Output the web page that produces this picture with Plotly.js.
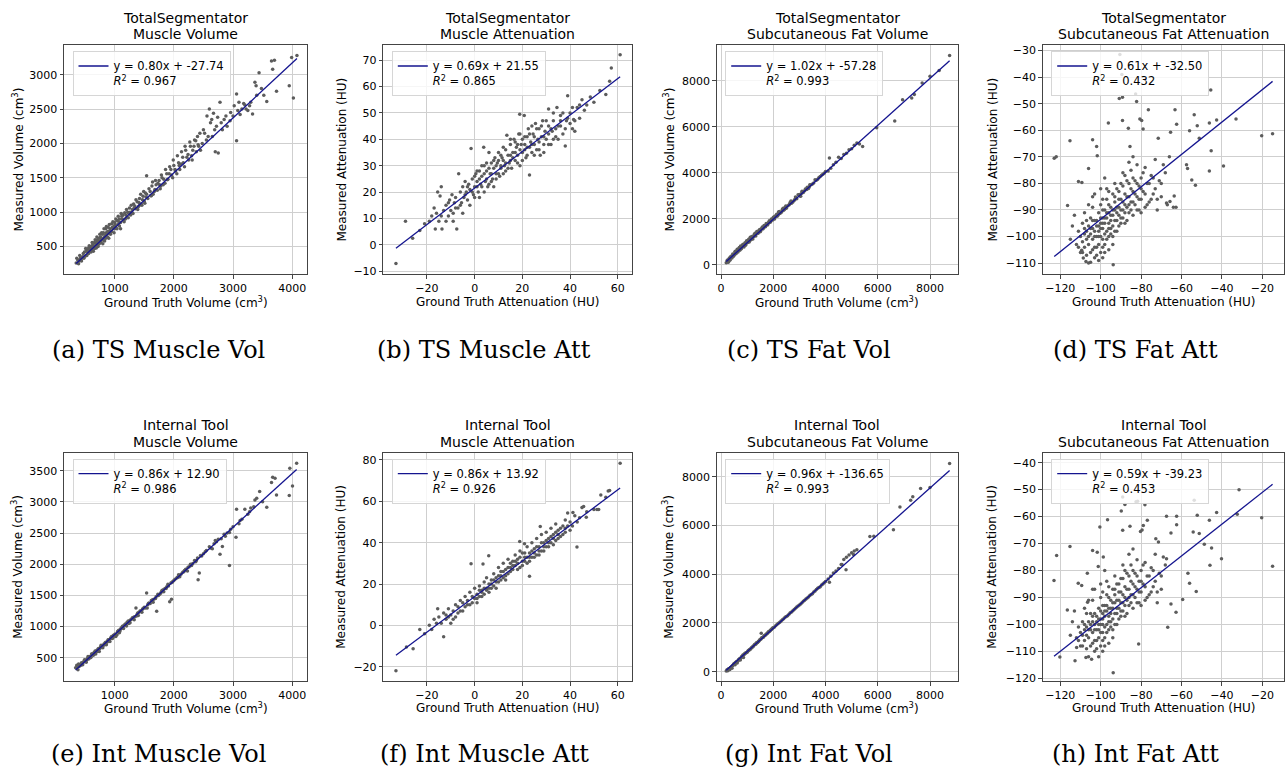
<!DOCTYPE html>
<html><head><meta charset="utf-8">
<script src="https://cdn.plot.ly/plotly-3.0.1.min.js"></script>
<style>html,body{margin:0;padding:0;background:#fff}#chart{width:1287px;height:770px}</style>
</head><body><div id="chart"></div>
<script>
// ---------------- DATA ----------------
const tsMuscleVol = [[350,260],[380,300],[400,290],[420,330],[430,310],[450,340],[470,400],[490,420],[500,360],[520,430],[540,450],[550,420],[560,480],[580,440],[590,470],[600,500],[610,450],[630,530],[640,500],[650,480],[660,560],[680,520],[690,540],[700,570],[710,600],[720,530],[730,580],[740,620],[750,560],[760,640],[770,580],[780,600],[790,680],[800,620],[810,700],[820,590],[830,640],[840,660],[850,760],[860,700],[870,680],[880,640],[890,780],[900,700],[910,720],[920,760],[940,720],[950,830],[960,780],[970,760],[990,800],[1000,850],[1010,820],[1020,780],[1040,880],[1060,820],[1070,860],[1080,900],[1100,850],[1120,940],[1130,900],[1150,880],[1170,990],[1190,960],[1200,920],[1220,1000],[1240,980],[1250,1060],[1270,960],[1290,1000],[1300,1040],[1320,1120],[1340,1090],[1350,1050],[1380,1150],[1400,1080],[1410,1140],[1420,1200],[1450,1120],[1470,1180],[1480,1230],[1500,1160],[1520,1280],[1530,1220],[1540,1530],[1560,1200],[1600,1300],[1610,1240],[1630,1380],[1650,1260],[1680,1330],[1700,1400],[1720,1320],[1750,1460],[1760,1400],[1780,1380],[1800,1500],[1830,1480],[1850,1420],[1880,1560],[1900,1480],[1920,1560],[1950,1620],[1980,1500],[2000,1680],[2020,1620],[2050,1560],[2080,1720],[2100,1620],[2120,1700],[2150,1800],[2180,1660],[2200,1900],[2220,1800],[2250,1760],[2280,1960],[2300,1820],[2320,1900],[2350,2050],[2380,1880],[2400,2100],[2420,1960],[2450,1900],[2500,2200],[2550,2050],[2600,2500],[2620,2300],[2650,2100],[2670,2440],[2700,1880],[2720,2250],[2750,1860],[2780,2600],[2820,2200],[2850,2350],[2900,2250],[2950,2330],[3000,2400],[3060,2720],[3060,2040],[3080,2480],[3150,2500],[3200,2560],[3250,2480],[3330,2430],[3370,2890],[3390,2840],[3440,3030],[3570,2610],[3650,3200],[3670,3080],[3700,3210],[3735,2760],[3950,2840],[3990,3250],[4020,2660],[4080,3280],
[360,330],[390,250],[410,370],[440,290],[460,350],[480,330],[510,470],[530,370],[560,400],[570,510],[600,420],[620,560],[640,430],[660,470],[670,600],[690,480],[700,640],[720,500],[740,540],[750,680],[760,560],[780,700],[800,540],[820,760],[830,580],[850,620],[860,790],[880,720],[900,620],[910,820],[930,680],[950,720],[970,860],[990,700],[1000,760],[1020,900],[1040,760],[1060,940],[1080,800],[1100,760],[1110,980],[1140,960],[1160,860],[1180,900],[1200,1040],[1230,920],[1260,1000],[1280,1100],[1310,980],[1330,1060],[1360,1180],[1390,1040],[1420,1100],[1440,1260],[1460,1100],[1490,1300],[1510,1130],[1540,1260],[1580,1340],[1620,1240],[1640,1440],[1670,1300],[1690,1460],[1730,1420],[1770,1340],[1790,1540],[1820,1400],[1860,1620],[1890,1470],[1930,1660],[1960,1540],[1990,1760],[2030,1600],[2060,1820],[2090,1680],[2130,1880],[2160,1720],[2190,1960],[2240,1840],[2270,2020],[2310,1760],[2340,1960],[2370,2040],[2410,1980],[2440,2150],[2480,2000],[2520,2150],[2560,2400],[2580,2100],[2640,2350],[2690,2200],[2740,2380],[2800,2300],[2880,2400],[2960,2450],[3020,2550],[3100,2600],[3120,2420],[3180,2580],[3220,2500],[3280,2550],[3300,2600],[3400,2700],[3480,2800],[3520,2700]];

const tsMuscleAtt = [[-33,-7],[-29,9],[-26,2.5],[-23,5.5],[-21,8],[-19,9],[-18,11],[-17,14],[-16.5,6],[-16,12],[-15.5,20],[-15,9],[-14.5,18.5],[-14,22],[-14,11],[-13.7,6],[-13,13],[-12,15],[-11,11],[-10.5,17],[-10,13],[-9.5,19],[-9,12],[-8.5,16],[-8,18],[-7.5,6],[-7,14],[-6.7,27],[-6,20],[-5.5,16],[-5,22],[-4.5,18],[-4,24],[-3.5,20],[-3,17],[-2.5,23],[-2,21],[-1.5,36.5],[-1,25],[-0.5,19],[0,22],[0.5,27],[1,24],[1,22],[1.5,20],[2,28],[2.5,23],[3,26],[3,22],[3.8,37],[4,30],[4.5,24],[5,28],[5,25],[5.5,22],[6,35],[6.5,27],[7,31],[7,27],[7.5,25],[8,29],[8.5,33],[9,27],[9,25],[9.5,31],[10,35],[10.5,26],[11,29],[11,30],[11.5,33],[12,37],[12.5,30],[13,28],[13.5,41.5],[14,34],[14.5,31],[15,38],[15,34],[15.5,29],[16,35],[16.5,40],[17,32],[17,35],[17.5,37],[18,34],[18.5,42],[18.9,49.5],[19,30],[19,36],[19.5,38],[20,35],[20.8,49],[21,41],[21,36],[21.5,33],[22,37],[22.5,44],[23,26.5],[23,37],[23.5,39],[24,35],[24.5,42],[25,38],[25.5,46],[26,36],[26.5,40],[27,44],[27,39],[27.5,34],[28,41],[28.5,47],[29,38],[29.5,43],[30,40],[31,51.5],[31,45],[31,42],[32,38],[32.5,43],[33,47],[33,40],[34,41],[34.5,52],[35,45],[36,49],[36,45],[37,42],[38,37.5],[38.5,47],[39,56.5],[40,50],[41,44],[41.5,47.5],[42,43],[43,52],[44,48],[45,55],[46,51],[48.5,56],[50,54],[52.5,58.5],[55,57],[56.6,62],[57.3,67],[61,72],
[-12,9],[-11,16],[-9,9],[-8,14],[-6,15],[-5,12],[-4,19],[-3,22],[-2,15],[-1,20],[0,26],[0,18],[1,28],[2,18],[2,25],[3,30],[4,20],[4,27],[5,31],[6,23],[6,29],[7,24],[8,32],[8,22],[9,30],[10,27],[10,32],[11,34],[12,27],[12,32],[13,36],[13,31],[14,29],[15,32],[15,40],[16,33],[17,39],[18,31],[18,38],[19,42],[20,32],[20,40],[21,38],[22,34],[22,41],[23,42],[24,38],[24,45],[25,34],[25,41],[26,44],[27,36],[28,45],[29,41],[29,35],[30,47],[31,38],[32,44],[33,50],[34,44],[35,40],[36,47],[37,50],[38,44],[39,48],[40,46],[41,52],[42,47],[44,53],[47,53]];

const tsFatVol = [[200,100],[230,180],[260,140],[300,250],[330,200],[360,320],[400,330],[430,380],[460,420],[500,460],[530,560],[560,500],[600,580],[640,620],[680,640],[700,760],[730,690],[760,740],[800,780],[830,880],[860,820],[900,880],[950,920],[980,1050],[1000,960],[1050,1040],[1100,1060],[1120,1200],[1150,1100],[1200,1180],[1250,1240],[1300,1380],[1330,1260],[1400,1390],[1450,1500],[1500,1440],[1550,1580],[1600,1560],[1650,1720],[1700,1660],[1750,1760],[1800,1780],[1850,1920],[1900,1880],[1950,1960],[2000,2060],[2050,2000],[2100,2150],[2150,2120],[2200,2300],[2250,2240],[2300,2280],[2350,2420],[2400,2380],[2450,2500],[2500,2460],[2600,2600],[2650,2720],[2700,2680],[2800,2800],[2850,2950],[2900,2880],[3000,3060],[3050,2990],[3100,3200],[3200,3220],[3300,3380],[3350,3320],[3400,3480],[3500,3520],[3600,3700],[3700,3720],[3800,3840],[3900,3940],[4000,4060],[4100,4080],[4150,4650],[4200,4200],[4300,4350],[4400,4460],[4500,4680],[4600,4620],[4700,4800],[4800,4850],[4900,5000],[5000,5050],[5100,5200],[5200,5300],[5300,5250],[5420,5150],[5960,5960],[6650,6250],[6950,7180],[7300,7250],[7400,7400],[7700,7900],[8000,8200],[8350,8450],[8750,9100],
[250,220],[280,120],[320,300],[350,220],[380,380],[420,300],[450,480],[480,380],[520,460],[550,600],[580,500],[620,680],[650,560],[690,720],[720,640],[750,820],[780,700],[820,800],[850,900],[880,780],[920,960],[940,860],[970,1000],[1020,980],[1060,1120],[1080,1000],[1130,1140],[1180,1240],[1220,1130],[1270,1320],[1320,1300],[1370,1450],[1420,1380],[1480,1540],[1520,1480],[1580,1650],[1620,1600],[1680,1680],[1730,1800],[1780,1740],[1820,1860],[1880,1860],[1930,2000],[1980,1950],[2030,2100],[2080,2080],[2130,2200],[2180,2160],[2230,2320],[2280,2270],[2330,2320],[2380,2460],[2430,2420],[2480,2560],[2550,2560],[2620,2640],[2680,2780],[2750,2740],[2830,2860],[2880,2920],[2950,3050],[3020,3000],[3080,3100],[3150,3150],[3230,3300],[3280,3280],[3380,3400],[3450,3480],[3550,3560],[3650,3680],[3750,3800],[3850,3900],[3950,3980]];

const tsFatAtt = [[-123,-70.5],[-122,-70],[-115.2,-63.9],[-116.4,-88.3],[-111,-79.3],[-109.3,-79.7],[-104,-63.6],[-102,-66.1],[-101.7,-69.6],[-106,-74.4],[-96.2,-57.3],[-90.5,-31.5],[-89.5,-39],[-90.8,-48],[-89.2,-47.6],[-82.7,-46.3],[-82.2,-49.2],[-89.2,-56.3],[-86.3,-59.2],[-80.6,-55.8],[-79.7,-56.3],[-76.4,-52.3],[-85.5,-66.1],[-79,-59.5],[-71.5,-63],[-63.2,-52.3],[-62.4,-57.7],[-65.4,-60.7],[-56,-60.2],[-52.2,-58.3],[-53.7,-54.2],[-46.2,-57.3],[-42.6,-56.1],[-33,-55.8],[-45.5,-44.8],[-45.3,-67.7],[-57.5,-73],[-57,-74.4],[-51.2,-63],[-46.2,-75.3],[-39.2,-73.4],[-54.9,-78.7],[-53.1,-80.7],[-63.6,-84.7],[-62.7,-89],[-67.4,-87.4],[-65.7,-86.8],[-20.3,-62.1],[-14.9,-61.3],[-93.8,-110.6],[-105,-109.7],[-107.3,-109.4],[-108.6,-108.1],[-109.4,-105.2],
[-112,-103],[-111,-98],[-110,-106],[-110,-100],[-109,-95],[-108,-104],[-108,-99],[-107,-107],[-107,-101],[-106,-96],[-106,-103],[-105,-99],[-105,-106],[-105,-93],[-104,-101],[-104,-97],[-103,-104],[-103,-94],[-102,-100],[-102,-96],[-102,-107],[-101,-98],[-101,-91],[-101,-103],[-100,-95],[-100,-100],[-100,-88],[-99,-97],[-99,-93],[-99,-104],[-98,-99],[-98,-90],[-98,-95],[-97,-101],[-97,-86],[-97,-93],[-96,-97],[-96,-91],[-96,-105],[-95,-94],[-95,-89],[-95,-99],[-94,-96],[-94,-84],[-94,-92],[-93,-90],[-93,-98],[-93,-87],[-92,-94],[-92,-82],[-92,-89],[-91,-96],[-91,-86],[-91,-92],[-90,-90],[-90,-80],[-90,-95],[-89,-87],[-89,-93],[-88,-84],[-88,-91],[-88,-77],[-87,-89],[-87,-94],[-86,-85],[-86,-80],[-85,-90],[-85,-75],[-85,-87],[-84,-83],[-84,-92],[-83,-79],[-83,-88],[-82,-85],[-82,-73],[-81,-90],[-81,-81],[-80,-86],[-80,-78],[-79,-83],[-78,-89],[-78,-74],[-77,-80],[-76,-87],[-75,-77],[-74,-84],[-73,-71],[-72,-90],[-71,-79],[-70,-85],[-68,-76],[-67,-88],[-66,-70],[-64,-89],[-113,-92],[-114,-96],[-115,-101],[-104,-89],[-103,-84],[-100,-82],[-98,-78],[-96,-83],[-106,-88],[-108,-91],[-99,-108],[-101,-109],
[-111,-104],[-109,-102],[-108,-97],[-107,-98],[-106,-100],[-105,-97],[-104,-105],[-104,-94],[-103,-100],[-103,-98],[-102,-94],[-102,-104],[-101,-96],[-101,-100],[-100,-97],[-100,-93],[-100,-106],[-99,-95],[-99,-101],[-99,-90],[-98,-93],[-98,-103],[-97,-98],[-97,-91],[-96,-95],[-96,-100],[-96,-88],[-95,-92],[-95,-97],[-94,-90],[-94,-100],[-93,-94],[-93,-85],[-92,-91],[-92,-98],[-91,-89],[-91,-83],[-90,-93],[-90,-86],[-89,-90],[-89,-81],[-88,-88],[-88,-95],[-87,-85],[-87,-79],[-86,-91],[-86,-88],[-85,-82],[-84,-87],[-84,-78],[-83,-84],[-82,-90],[-82,-80],[-81,-86],[-80,-82],[-80,-91],[-79,-76],[-78,-84],[-77,-88],[-76,-80],[-75,-86],[-74,-78],[-73,-82],[-72,-86],[-70,-80],[-69,-73],[-107,-94],[-109,-106],[-103,-108],[-98,-106],[-94,-103],[-97,-82],[-99,-86],[-93,-80],[-89,-76],[-86,-72],[-84,-70],[-106,-110],[-104,-85]];

const intMuscleVol = [[340,340],[360,380],[380,310],[400,360],[420,390],[440,420],[450,400],[460,390],[480,440],[500,460],[510,450],[520,430],[540,490],[560,480],[570,500],[580,520],[600,510],[620,560],[630,550],[640,540],[660,590],[680,560],[690,600],[700,620],[720,640],[740,600],[750,650],[760,670],[780,690],[800,660],[810,700],[820,720],[840,740],[860,710],[870,750],[880,770],[900,790],[920,760],[930,810],[940,830],[960,810],[980,860],[990,850],[1000,870],[1020,840],[1050,920],[1060,930],[1080,900],[1100,960],[1120,980],[1130,1000],[1150,970],[1180,1040],[1190,1030],[1200,1010],[1230,1090],[1250,1090],[1260,1060],[1300,1140],[1320,1150],[1330,1110],[1360,1300],[1380,1200],[1390,1220],[1400,1180],[1430,1250],[1460,1230],[1470,1280],[1500,1310],[1540,1540],[1550,1300],[1560,1350],[1580,1380],[1620,1420],[1640,1430],[1650,1390],[1700,1480],[1710,1245],[1730,1520],[1760,1520],[1780,1540],[1800,1580],[1830,1560],[1850,1610],[1880,1640],[1900,1680],[1930,1400],[1950,1700],[1960,1440],[1980,1720],[2000,1740],[2050,1780],[2060,1790],[2080,1830],[2100,1800],[2150,1870],[2170,1880],[2200,1920],[2230,1890],[2260,1960],[2280,2000],[2300,1980],[2350,2060],[2380,2060],[2400,2100],[2410,1750],[2430,1860],[2450,2140],[2500,2170],[2550,2220],[2600,2280],[2650,2250],[2700,2380],[2750,2400],[2780,2160],[2820,2285],[2850,2480],[2900,2500],[2940,1980],[2940,2510],[3000,2600],[3050,2434],[3060,2880],[3100,2650],[3150,2720],[3200,2880],[3250,2800],[3300,2900],[3370,3030],[3400,3058],[3450,3164],[3500,3000],[3570,2914],[3650,3310],[3670,3393],[3710,3377],[3735,3110],[3950,3100],[3960,3537],[4005,3255],[4075,3620],
[370,360],[390,400],[430,380],[470,430],[490,470],[530,470],[550,520],[590,500],[610,560],[650,580],[670,610],[710,600],[730,650],[770,700],[790,670],[830,710],[850,750],[890,790],[910,770],[950,840],[970,820],[1010,880],[1040,870],[1070,940],[1090,930],[1110,970],[1140,1010],[1170,1030],[1210,1070],[1240,1050],[1270,1110],[1290,1120],[1340,1160],[1370,1170],[1410,1230],[1440,1250],[1480,1290],[1520,1300],[1570,1370],[1600,1370],[1660,1440],[1690,1450],[1740,1500],[1790,1560],[1820,1590],[1870,1610],[1910,1650],[1970,1710],[2020,1760],[2070,1790],[2120,1840],[2180,1900],[2240,1950],[2320,2010],[2370,2040],[2470,2130],[2530,2200],[2620,2260],[2680,2330],[2720,2360],[2800,2410],[2870,2450],[2960,2560],[3120,2700],[3280,2840],[3350,2920]];

const intMuscleAtt = [[-33,-22],[-28.6,-10.4],[-25.8,-11.3],[-23,-2],[-21,-4],[-19,0],[-18,-2],[-17,3],[-16,1],[-15.5,8],[-15,4],[-14,1],[-13,-5.5],[-13,6],[-12,3],[-11,8],[-10,5],[-10,1],[-9,7],[-8,10],[-8,4],[-7,9],[-6,12],[-6,7],[-5,11],[-4,14],[-4,9],[-3,12],[-2,16],[-2,10],[-1.5,29.8],[-1,14],[0,13],[0,18],[1,15],[1,11],[2,19],[2,14],[3,17],[3,16],[3.5,29.7],[4,21],[4,15],[5,18],[5,23],[5,17],[5.9,33.7],[6,20],[6,16],[7,22],[7,20],[8,19],[8,25],[9,21],[9,18],[10,24],[10,28],[11,22],[11,24],[12,26],[12,30],[13,24],[13,22],[14,28],[14,32],[15,26],[15,28],[16,31],[16,27],[17,34],[17,29],[18,32],[18,30],[18.9,40.6],[19,28],[19,36],[20,31],[20,35],[20.9,39.5],[21,33],[21,31],[22,38],[22,30],[23,35],[23,23.7],[23,33],[24,33],[24,40],[25,37],[25,35],[26,34],[26,42],[27,38],[27,36],[27.5,47.8],[28,36],[28,44],[29,40],[29,38],[30,38],[30,45],[31,42],[31,40],[32,40],[32,47],[33,44],[33,42],[34,41],[34,49],[35,46],[35,44],[36,43],[37,48],[38,45],[38,51],[39,54.3],[40,50],[40,46],[41.2,54.6],[42,53],[42.9,37.9],[44,52],[45,57],[45.7,57.5],[46.8,52.3],[47,55],[50,56],[51.3,56],[52,56],[52.9,63],[55,62],[56,65],[56.6,65.2],[61,78.4],
[-12,5],[-11,4],[-9,3],[-7,6],[-5,7],[-3,10],[-1,11],[1,13],[2,17],[3,14],[4,18],[6,18],[7,18],[8,22],[9,23],[10,21],[11,26],[12,23],[13,27],[14,25],[15,30],[16,29],[17,31],[18,27],[19,33],[20,29],[21,35],[22,33],[23,31],[24,36],[25,33],[26,38],[27,34],[28,40],[29,36],[30,41],[31,38],[32,43],[33,39],[34,45],[35,42],[36,47],[37,44],[38,47],[39,48],[41,48],[43,50]];

const intFatVol = [[200,30],[230,80],[260,40],[300,120],[340,90],[380,180],[420,140],[460,260],[500,320],[540,280],[580,400],[620,360],[660,470],[700,520],[740,480],[780,600],[820,640],[860,580],[900,720],[950,770],[1000,800],[1050,870],[1100,900],[1150,960],[1200,1010],[1250,1060],[1300,1130],[1350,1180],[1400,1200],[1450,1260],[1500,1320],[1540,1580],[1550,1380],[1600,1400],[1650,1470],[1700,1500],[1750,1560],[1800,1620],[1850,1650],[1900,1710],[1950,1760],[2000,1800],[2100,1890],[2200,1990],[2300,2080],[2400,2170],[2500,2260],[2600,2360],[2700,2450],[2800,2550],[2900,2650],[3000,2740],[3100,2830],[3200,2930],[3300,3020],[3400,3130],[3500,3200],[3600,3310],[3700,3420],[3800,3490],[3900,3600],[4000,3700],[4100,3800],[4150,3670],[4200,3920],[4300,4050],[4400,4130],[4500,4240],[4600,4400],[4630,4400],[4700,4600],[4785,4180],[4800,4700],[4900,4790],[5000,4880],[5070,4815],[5100,4950],[5200,5000],[5700,5550],[5850,5560],[6600,5830],[6850,6765],[7260,7040],[7340,7180],[7640,7520],[8000,7560],[8750,8550],
[250,60],[280,110],[320,90],[360,170],[400,200],[440,240],[480,300],[520,340],[560,380],[600,420],[640,430],[680,500],[720,530],[760,560],[800,620],[840,680],[880,700],[920,760],[980,790],[1030,850],[1080,900],[1130,930],[1180,990],[1230,1030],[1280,1100],[1330,1130],[1380,1200],[1430,1240],[1480,1300],[1530,1340],[1580,1400],[1630,1420],[1680,1480],[1730,1540],[1780,1580],[1830,1650],[1880,1680],[1930,1730],[1980,1790],[2050,1830],[2150,1950],[2250,2030],[2350,2130],[2450,2230],[2550,2300],[2650,2420],[2750,2500],[2850,2600],[2950,2700],[3050,2780],[3150,2890],[3250,2980],[3350,3070],[3450,3170],[3550,3270],[3650,3370],[3750,3450],[3850,3560],[3950,3650]];

const intFatAtt = [[-123.1,-83.7],[-121.8,-74.4],[-115.2,-71.1],[-116.5,-94.7],[-111.1,-84.7],[-109.4,-85.6],[-106.6,-81],[-106.5,-91.8],[-104,-72.6],[-101.7,-73.2],[-101.2,-78.5],[-100.4,-63.9],[-98.7,-75],[-96.6,-61.2],[-102.8,-45.2],[-89.1,-52.7],[-89.8,-57.9],[-88,-55.5],[-89.1,-65.1],[-85.5,-63.6],[-82.5,-54.5],[-81.7,-54.3],[-78.1,-55.6],[-78.9,-63.3],[-80.3,-65.5],[-79.5,-65],[-76.9,-61.4],[-72.7,-68.2],[-71.4,-69.4],[-67.4,-59.9],[-65.2,-66.1],[-62.4,-59.9],[-62.4,-63],[-54.2,-65.7],[-53.7,-53.9],[-52.2,-59.5],[-46.2,-61.4],[-42.6,-58.5],[-51.2,-66.3],[-48.7,-70.3],[-45.1,-71.7],[-45.9,-78.1],[-40.2,-75.6],[-56.8,-81],[-56,-84.7],[-52.7,-87.8],[-67.4,-75.6],[-65.2,-92.4],[-62.7,-95.5],[-59.4,-90.8],[-66.8,-101.1],[-81.2,-107.3],[-93.8,-117.9],[-120.2,-112.1],[-111.9,-108.6],[-112.7,-113.5],[-107.3,-112.3],[-104.5,-112.9],[-31.5,-50],[-32.4,-59.1],[-20.3,-60.4],[-14.9,-78.4],
[-112,-105],[-111,-101],[-110,-108],[-110,-103],[-109,-99],[-108,-106],[-108,-102],[-107,-109],[-107,-104],[-106,-99],[-106,-105],[-105,-102],[-105,-108],[-105,-96],[-104,-103],[-104,-99],[-103,-106],[-103,-96],[-102,-102],[-102,-99],[-102,-109],[-101,-100],[-101,-94],[-101,-105],[-100,-98],[-100,-103],[-100,-90],[-99,-100],[-99,-96],[-99,-106],[-98,-101],[-98,-93],[-98,-97],[-97,-103],[-97,-89],[-97,-95],[-96,-99],[-96,-94],[-96,-107],[-95,-96],[-95,-91],[-95,-101],[-94,-98],[-94,-87],[-94,-94],[-93,-92],[-93,-100],[-93,-89],[-92,-96],[-92,-85],[-92,-91],[-91,-98],[-91,-88],[-91,-94],[-90,-92],[-90,-83],[-90,-97],[-89,-89],[-89,-95],[-88,-86],[-88,-93],[-88,-80],[-87,-91],[-87,-96],[-86,-87],[-86,-82],[-85,-92],[-85,-78],[-85,-89],[-84,-85],[-84,-94],[-83,-81],[-83,-90],[-82,-87],[-82,-76],[-81,-92],[-81,-84],[-80,-88],[-80,-80],[-79,-85],[-78,-91],[-78,-77],[-77,-82],[-76,-89],[-75,-79],[-74,-86],[-73,-74],[-72,-92],[-71,-81],[-70,-87],[-68,-78],[-113,-95],[-114,-99],[-115,-104],[-104,-91],[-103,-87],[-100,-85],[-98,-80],[-96,-86],[-106,-91],[-108,-94],[-99,-110],[-101,-112],
[-111,-106],[-109,-104],[-108,-100],[-107,-101],[-106,-102],[-105,-100],[-104,-107],[-104,-97],[-103,-102],[-103,-100],[-102,-97],[-102,-106],[-101,-98],[-101,-102],[-100,-100],[-100,-95],[-100,-108],[-99,-98],[-99,-103],[-99,-93],[-98,-95],[-98,-105],[-97,-100],[-97,-93],[-96,-97],[-96,-102],[-96,-90],[-95,-94],[-95,-99],[-94,-92],[-94,-102],[-93,-96],[-93,-87],[-92,-94],[-92,-100],[-91,-91],[-91,-85],[-90,-95],[-90,-88],[-89,-92],[-89,-83],[-88,-90],[-88,-97],[-87,-87],[-87,-81],[-86,-93],[-86,-90],[-85,-84],[-84,-89],[-84,-80],[-83,-86],[-82,-92],[-82,-82],[-81,-88],[-80,-84],[-80,-93],[-79,-78],[-78,-86],[-77,-90],[-76,-82],[-75,-88],[-74,-80],[-73,-84],[-72,-88],[-70,-82],[-69,-75],[-107,-96],[-109,-108],[-103,-110],[-98,-108],[-94,-105],[-97,-84],[-99,-88],[-93,-82],[-89,-78],[-86,-74],[-84,-72],[-106,-112],[-104,-87]];

const panelData = [tsMuscleVol, tsMuscleAtt, tsFatVol, tsFatAtt, intMuscleVol, intMuscleAtt, intFatVol, intFatAtt];
const fitSlope = [0.80, 0.69, 1.02, 0.61, 0.86, 0.86, 0.96, 0.59];
const fitIntercept = [-27.74, 21.55, -57.28, -32.50, 12.90, 13.92, -136.65, -39.23];
const fitR2 = [0.967, 0.865, 0.993, 0.432, 0.986, 0.926, 0.993, 0.453];
const toolNames = ["TotalSegmentator", "Internal Tool"];
const metricNames = ["Muscle Volume", "Muscle Attenuation", "Subcutaneous Fat Volume", "Subcutaneous Fat Attenuation"];
const xLabels = ["Ground Truth Volume (cm<sup>3</sup>)", "Ground Truth Attenuation (HU)", "Ground Truth Volume (cm<sup>3</sup>)", "Ground Truth Attenuation (HU)"];
const yLabels = ["Measured Volume (cm<sup>3</sup>)", "Measured Attenuation (HU)", "Measured Volume (cm<sup>3</sup>)", "Measured Attenuation (HU)"];
const captions = ["(a) TS Muscle Vol", "(b) TS Muscle Att", "(c) TS Fat Vol", "(d) TS Fat Att", "(e) Int Muscle Vol", "(f) Int Muscle Att", "(g) Int Fat Vol", "(h) Int Fat Att"];

// ---------------- LAYOUT GEOMETRY ----------------
const W = 1287, H = 770;
const colL = [64, 383.3, 716.7, 1042.7];
const colR = [307, 632.3, 957.7, 1284.3];
const rowT = [45, 452.7];
const rowB = [274, 681];
const xRanges = [[144, 4250], [-38.3, 66.1], [-165, 9060], [-128.7, -9.1], [144, 4250], [-38.3, 66.1], [-165, 9060], [-128.7, -9.1]];
const yRanges = [[100, 3433], [-11, 75.7], [-392, 9555], [-114.1, -27.9], [128, 3788], [-26.9, 83.5], [-384, 8990], [-121, -36.3]];
const xDticks = [1000, 20, 2000, 20, 1000, 20, 2000, 20];
const yDticks = [500, 10, 2000, 10, 500, 20, 2000, 10];
const yLabelX = [17, 341, 668, 992];
const captionX = [158, 484, 809, 1135];
const captionY = [350, 754];
const titleY = [[18, 34], [425, 441.5]];
const xLabelY = [302, 708];

const FONT = "DejaVu Sans, Verdana, sans-serif";
const px = v => v / W, py = v => 1 - v / H;

const traces = [];
const layout = {
  width: W, height: H, margin: {l: 0, r: 0, t: 0, b: 0},
  paper_bgcolor: "#fff", plot_bgcolor: "#fff",
  showlegend: true, annotations: [], font: {family: FONT, color: "#000"}
};

for (let i = 0; i < 8; i++) {
  const row = Math.floor(i / 4), col = i % 4;
  const n = i + 1, sfx = n === 1 ? "" : String(n);
  const xa = "x" + sfx, ya = "y" + sfx;
  const legName = "legend" + sfx;
  const pts = panelData[i];
  const xs = pts.map(p => p[0]), ys = pts.map(p => p[1]);
  traces.push({
    type: "scatter", mode: "markers", x: xs, y: ys, xaxis: xa, yaxis: ya,
    marker: {size: 3.5, color: "#5c5c5c"}, showlegend: false, hoverinfo: "skip"
  });
  const xmin = Math.min(...xs), xmax = Math.max(...xs);
  const lx = [xmin, xmax], ly = lx.map(v => fitSlope[i] * v + fitIntercept[i]);
  traces.push({
    type: "scatter", mode: "lines", x: lx, y: ly, xaxis: xa, yaxis: ya,
    line: {color: "#14148f", width: 1.3}, legend: legName,
    name: "y = " + fitSlope[i].toFixed(2) + "x + " + fitIntercept[i].toFixed(2) +
          "<br><i>R</i><sup>2</sup> = " + fitR2[i].toFixed(3)
  });
  const axCommon = {
    showgrid: true, gridcolor: "#cfcfcf", gridwidth: 1, zeroline: false,
    showline: true, linecolor: "#444", linewidth: 1, mirror: true,
    ticks: "outside", ticklen: 3.5, tickwidth: 1, tickcolor: "#444",
    tickfont: {family: FONT, size: 11, color: "#000"}, fixedrange: true
  };
  layout["xaxis" + sfx] = Object.assign({}, axCommon, {
    domain: [px(colL[col]), px(colR[col])], range: xRanges[i], anchor: ya,
    tick0: 0, dtick: xDticks[i]
  });
  layout["yaxis" + sfx] = Object.assign({}, axCommon, {
    domain: [py(rowB[row]), py(rowT[row])], range: yRanges[i], anchor: xa,
    tick0: 0, dtick: yDticks[i]
  });
  layout[legName] = {
    x: px(colL[col] + 8.5), y: py(rowT[row] + 6), xanchor: "left", yanchor: "top",
    bgcolor: "rgba(255,255,255,0.8)", bordercolor: "#d6d6d6", borderwidth: 1,
    font: {family: FONT, size: 11.5, color: "#000"}, valign: "top", itemwidth: 30
  };
  const cx = (colL[col] + colR[col]) / 2;
  const ann = layout.annotations;
  ann.push({text: toolNames[row], x: px(cx), y: py(titleY[row][0]), xref: "paper", yref: "paper",
    showarrow: false, xanchor: "center", yanchor: "middle", font: {family: FONT, size: 14, color: "#000"}});
  ann.push({text: metricNames[col], x: px(cx), y: py(titleY[row][1]), xref: "paper", yref: "paper",
    showarrow: false, xanchor: "center", yanchor: "middle", font: {family: FONT, size: 14, color: "#000"}});
  ann.push({text: xLabels[col], x: px(cx), y: py(xLabelY[row]), xref: "paper", yref: "paper",
    showarrow: false, xanchor: "center", yanchor: "middle", font: {family: FONT, size: 12, color: "#000"}});
  ann.push({text: yLabels[col], x: px(yLabelX[col]), y: py((rowT[row] + rowB[row]) / 2), xref: "paper", yref: "paper",
    showarrow: false, xanchor: "center", yanchor: "middle", textangle: -90, font: {family: FONT, size: 12, color: "#000"}});
  ann.push({text: captions[i], x: px(captionX[col]), y: py(captionY[row]), xref: "paper", yref: "paper",
    showarrow: false, xanchor: "center", yanchor: "middle", borderpad: 0, font: {family: "DejaVu Serif, serif", size: 24, color: "#000"}});
}

Plotly.newPlot("chart", traces, layout, {staticPlot: true, displayModeBar: false});
</script></body></html>
